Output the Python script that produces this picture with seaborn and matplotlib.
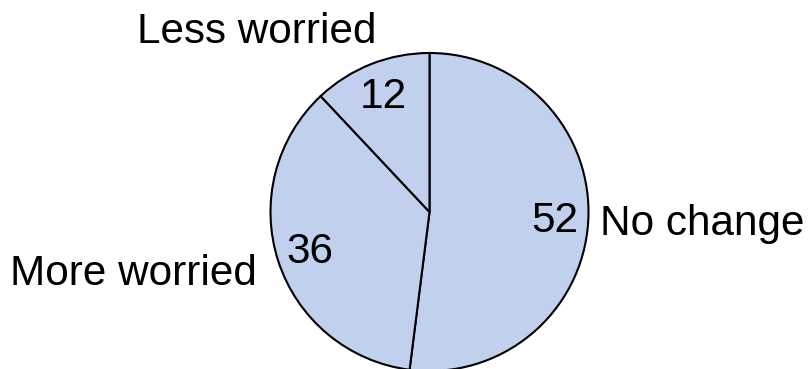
import numpy as np
import matplotlib
matplotlib.use("Agg")
import matplotlib.pyplot as plt
import seaborn as sns

categories = ["No change", "More worried", "Less worried"]
values = [52, 36, 12]

sns.set_theme(style="white")
plt.rcParams["font.family"] = ["Liberation Sans", "DejaVu Sans"]

fig = plt.figure(figsize=(8.1, 3.69), dpi=100)
ax = fig.add_axes([0, 0, 1, 1])

fill = "#c1d0ed"
wedges, _ = ax.pie(
    values,
    startangle=90,
    counterclock=False,
    colors=[fill] * len(values),
    wedgeprops=dict(edgecolor="black", linewidth=1.5),
    radius=1.0,
    center=(0, 0),
)

# value labels placed along each wedge's mid-angle
fs = 30.4
for w, v in zip(wedges, values):
    mid = np.deg2rad((w.theta1 + w.theta2) / 2)
    ax.text(0.79 * np.cos(mid), 0.79 * np.sin(mid) - 0.01, str(v),
            ha="center", va="center", fontsize=fs, color="black")

# category labels outside the pie
ax.text(1.072, -0.145, categories[0], ha="left", va="baseline", fontsize=fs, color="black")
ax.text(-1.085, -0.459, categories[1], ha="right", va="baseline", fontsize=fs, color="black")
ax.text(-1.085, 1.063, categories[2], ha="center", va="baseline", fontsize=fs, color="black")

px = 159.0
ax.set_xlim(-429.5 / px, (810 - 429.5) / px)
ax.set_ylim(-(369 - 212) / px, 212 / px)
ax.set_aspect("equal")
ax.axis("off")

fig.savefig("out.png", dpi=100, facecolor="white")
